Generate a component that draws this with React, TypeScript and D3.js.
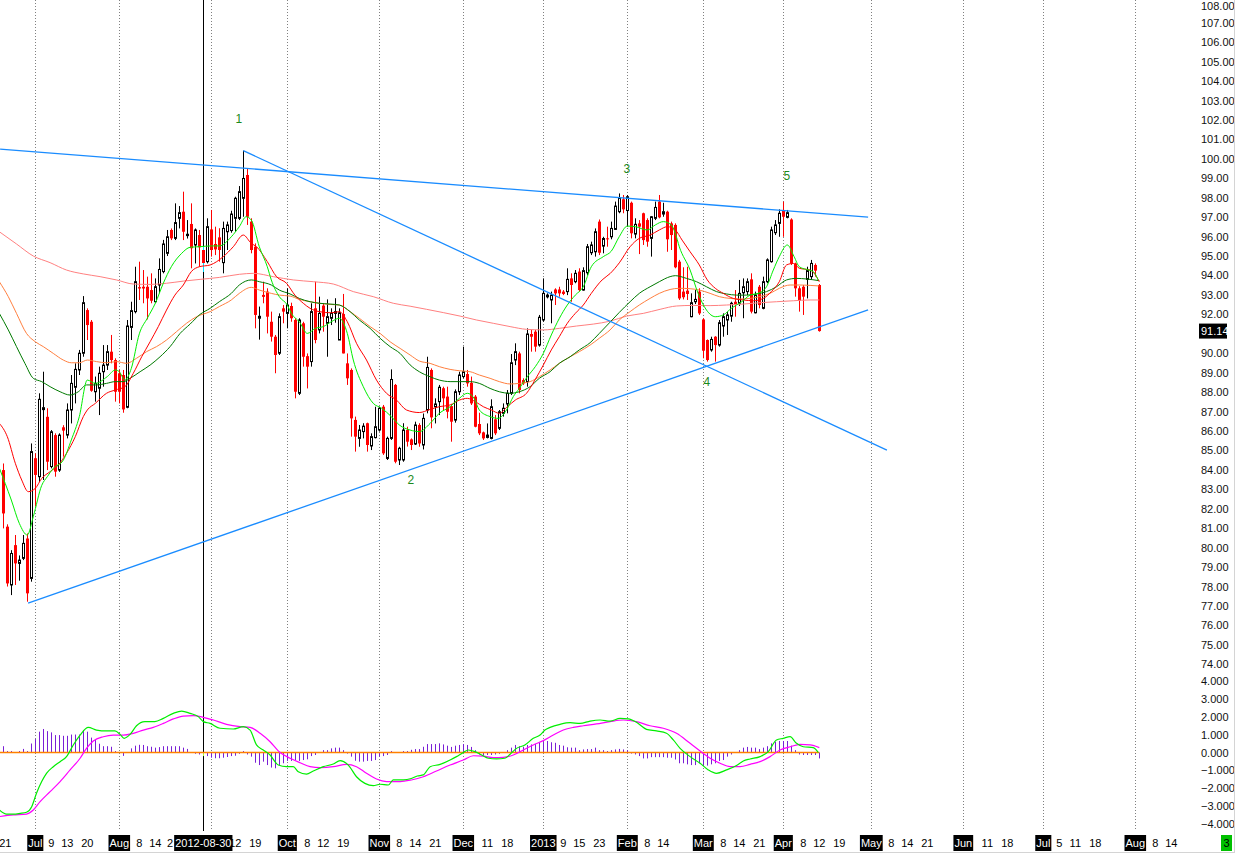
import React, { useEffect, useRef } from 'react';
import * as d3 from 'd3';

const W = 1235;
const H = 853;
const FONT = '"Liberation Sans Narrow", "Arial Narrow", "Liberation Sans", Arial, sans-serif';

// daily bars, 2012-06-20 .. 2013-04-12 (index 0 = first bar)
const opens = [
  83.99, 81.08, 78.08, 80.13, 79.19, 79.45, 80.47, 78.42, 84.6, 83.65, 87.1, 86.73, 84.17, 85.79, 83.99, 86.19, 85.79, 87.08, 88.25, 89.14,
  90.0, 92.22, 91.62, 88.02, 88.2, 89.05, 89.39, 90.08, 89.65, 88.97, 88.88, 87.22, 91.33, 92.14, 93.4, 93.42, 93.42, 93.25, 92.65, 93.51,
  94.2, 95.14, 96.34, 95.91, 96.94, 97.28, 96.05, 96.65, 95.57, 96.08, 95.31, 94.71, 96.37, 95.62, 95.96, 94.66, 96.25, 96.31, 96.94, 96.94,
  97.97, 99.17, 96.77, 95.48, 91.8, 93.0, 93.17, 91.62, 90.85, 90.0, 92.31, 92.05, 92.43, 91.71, 87.94, 91.54, 89.85, 89.57, 92.31, 91.2,
  92.45, 91.54, 91.8, 92.05, 90.68, 92.02, 89.48, 89.14, 86.57, 85.62, 85.97, 86.4, 85.23, 85.66, 86.05, 87.25, 84.59, 85.62, 88.37, 84.51,
  84.51, 86.05, 85.57, 85.33, 86.31, 85.28, 87.08, 89.14, 87.25, 87.51, 88.2, 87.77, 87.28, 86.56, 88.02, 88.8, 88.93, 88.48, 87.77, 86.36,
  85.93, 85.67, 85.62, 86.6, 86.14, 86.91, 87.39, 87.94, 89.65, 89.99, 88.62, 88.54, 90.99, 91.11, 90.42, 91.71, 92.9, 92.74, 93.28, 93.28,
  93.17, 93.17, 93.85, 93.68, 94.2, 93.25, 94.14, 95.17, 95.22, 96.77, 95.51, 95.91, 95.99, 96.37, 97.28, 97.92, 97.34, 97.74, 96.13, 96.68,
  97.2, 96.85, 95.91, 96.94, 97.8, 97.16, 97.28, 96.68, 96.6, 94.71, 93.17, 93.22, 91.88, 92.65, 93.17, 91.74, 90.68, 90.17, 90.85, 90.42,
  91.4, 91.71, 91.91, 92.65, 92.57, 93.11, 93.17, 93.8, 92.08, 93.42, 92.31, 93.68, 94.71, 96.2, 96.68, 97.37, 96.99, 96.88, 94.62, 93.34,
  93.42, 93.8, 93.94, 94.54, 93.51,
];
const highs = [
  84.33, 81.2, 79.87, 80.65, 79.6, 80.65, 80.73, 85.36, 84.85, 87.94, 89.05, 87.17, 86.05, 85.88, 85.88, 86.3, 87.42, 88.88, 89.48, 90.17,
  92.94, 92.31, 91.71, 88.8, 89.31, 90.42, 90.42, 90.94, 89.74, 89.14, 89.14, 91.71, 92.65, 94.45, 94.71, 94.28, 93.94, 94.11, 93.85, 94.88,
  95.83, 96.34, 96.42, 97.71, 97.57, 98.31, 96.85, 97.71, 96.42, 96.34, 95.47, 96.94, 97.37, 96.51, 96.43, 96.77, 96.77, 97.33, 98.05, 98.6,
  100.42, 99.51, 96.94, 95.65, 92.4, 93.68, 93.34, 92.14, 90.94, 92.05, 92.48, 93.34, 92.6, 91.8, 91.8, 91.62, 89.99, 92.57, 93.68, 92.91,
  92.57, 92.77, 92.31, 92.83, 92.31, 93.05, 89.99, 89.22, 86.74, 86.31, 86.4, 86.43, 85.88, 87.25, 87.25, 87.34, 85.71, 89.17, 88.42, 85.19,
  86.4, 86.22, 85.62, 86.48, 86.4, 86.9, 89.82, 89.22, 87.68, 88.37, 88.28, 88.28, 87.39, 88.14, 89.05, 90.34, 89.14, 88.8, 87.85, 86.94,
  85.97, 86.39, 87.63, 86.82, 87.08, 87.42, 88.11, 89.96, 90.51, 90.08, 88.71, 91.28, 91.2, 91.2, 91.97, 93.85, 93.08, 93.17, 93.34, 93.42,
  93.25, 94.37, 94.11, 94.28, 94.37, 94.42, 95.62, 95.74, 96.42, 96.88, 95.99, 96.51, 96.77, 97.8, 98.22, 98.14, 98.14, 97.8, 96.94, 96.85,
  97.23, 96.94, 97.06, 97.8, 98.14, 97.74, 97.33, 96.77, 96.68, 94.8, 94.42, 94.45, 93.08, 93.25, 93.34, 91.8, 90.71, 90.85, 90.88, 91.71,
  92.05, 92.14, 92.65, 93.25, 93.77, 93.85, 93.85, 94.11, 93.17, 93.51, 93.94, 94.88, 96.51, 96.85, 97.4, 97.8, 97.37, 96.94, 94.66, 93.45,
  93.51, 94.45, 94.8, 94.62, 93.56,
];
const lows = [
  80.99, 78.0, 77.56, 78.08, 78.3, 79.36, 77.22, 78.25, 82.11, 83.39, 83.48, 83.99, 84.08, 83.65, 83.9, 84.68, 85.62, 86.39, 87.42, 88.88,
  89.82, 90.68, 88.02, 87.51, 86.82, 88.28, 89.14, 89.48, 87.51, 87.42, 86.94, 87.17, 90.68, 92.05, 92.74, 92.57, 91.74, 92.57, 92.57, 93.08,
  94.11, 95.0, 95.82, 95.82, 96.42, 95.82, 95.9, 94.37, 94.62, 94.45, 94.18, 94.62, 94.97, 95.05, 94.71, 94.11, 95.31, 96.2, 96.25, 96.85,
  97.02, 96.6, 95.14, 91.28, 90.7, 92.57, 91.02, 90.6, 88.97, 89.91, 91.54, 91.28, 91.62, 87.68, 87.85, 89.31, 88.19, 89.31, 90.51, 91.02,
  91.11, 89.82, 91.45, 91.57, 90.68, 89.99, 88.37, 85.71, 84.94, 85.19, 85.62, 84.94, 85.02, 85.62, 85.97, 84.77, 84.51, 85.54, 84.34, 84.25,
  84.42, 85.2, 85.02, 85.28, 85.19, 85.05, 86.91, 86.14, 86.39, 86.82, 87.08, 86.65, 85.45, 86.43, 87.85, 88.71, 88.28, 87.34, 86.19, 85.79,
  85.54, 85.62, 85.57, 85.79, 86.05, 86.74, 86.91, 87.85, 89.39, 87.94, 88.37, 88.28, 90.08, 90.08, 90.34, 91.62, 92.82, 91.54, 92.48, 92.91,
  92.99, 92.99, 92.65, 93.6, 93.17, 93.22, 94.02, 95.05, 94.97, 95.05, 95.14, 95.48, 95.86, 96.34, 97.2, 97.2, 96.51, 95.91, 95.91, 95.1,
  95.57, 95.48, 94.97, 96.85, 96.94, 97.02, 95.22, 95.31, 94.37, 92.74, 92.77, 92.74, 91.85, 92.53, 91.97, 89.74, 89.57, 90.08, 89.57, 90.34,
  90.85, 90.94, 91.62, 91.88, 92.43, 91.8, 92.99, 92.05, 92.05, 92.31, 92.26, 93.6, 94.66, 96.08, 95.99, 95.99, 96.94, 94.54, 92.91, 92.14,
  91.97, 92.82, 93.77, 93.94, 91.11,
];
const closes = [
  81.76, 78.16, 79.7, 79.19, 79.36, 80.22, 77.65, 84.94, 83.74, 87.63, 87.2, 84.42, 85.96, 83.91, 85.79, 86.02, 87.08, 88.45, 89.17, 90.0,
  92.6, 91.45, 88.07, 88.45, 88.97, 89.39, 90.08, 89.65, 88.02, 88.02, 87.11, 91.4, 92.19, 93.68, 93.33, 93.33, 92.82, 92.7, 93.42, 94.31,
  95.62, 95.99, 95.91, 96.72, 97.23, 96.25, 96.12, 95.4, 96.34, 95.45, 94.64, 96.51, 95.31, 95.34, 95.31, 96.42, 96.6, 97.16, 97.97, 98.31,
  98.99, 97.02, 95.31, 91.97, 91.9, 92.9, 91.88, 90.85, 89.91, 91.88, 92.14, 92.48, 91.8, 88.02, 91.71, 89.82, 89.31, 92.14, 90.68, 92.05,
  91.88, 91.88, 92.05, 92.14, 92.08, 89.99, 88.71, 86.65, 85.71, 86.05, 86.25, 85.28, 85.71, 86.22, 87.17, 84.85, 85.62, 88.65, 84.42, 85.11,
  86.05, 85.45, 85.28, 86.31, 85.36, 86.65, 89.27, 86.7, 87.39, 88.25, 87.68, 86.99, 86.48, 88.02, 88.88, 89.05, 88.45, 87.42, 86.22, 85.88,
  85.62, 85.79, 87.25, 85.88, 86.99, 87.17, 87.94, 89.51, 90.08, 88.11, 88.45, 90.99, 90.85, 90.34, 91.85, 93.08, 92.99, 92.99, 93.08, 93.08,
  93.05, 93.8, 93.51, 94.11, 93.25, 94.25, 95.48, 95.57, 96.25, 95.17, 95.9, 95.86, 96.42, 97.57, 97.97, 97.4, 98.05, 96.17, 96.63, 96.51,
  95.82, 95.74, 97.02, 97.5, 96.99, 97.28, 95.86, 96.08, 94.42, 92.82, 92.88, 93.05, 92.6, 92.77, 92.05, 90.13, 89.65, 90.71, 90.42, 91.57,
  91.88, 91.97, 92.57, 92.53, 93.08, 93.42, 93.68, 92.14, 92.99, 92.48, 93.68, 94.8, 96.34, 96.6, 97.2, 97.02, 97.23, 94.62, 93.34, 92.7,
  92.91, 94.25, 94.62, 94.25, 91.14,
];

// MACD histogram, one value per bar
const histogram = [
  0.35, 0.08, 0.08, 0, 0.08, 0.2, 0.08, 0.5, 0.75, 1.16, 1.31, 1.19, 1.12, 0.97, 0.97, 0.93, 0.93, 1.0, 1.0, 1.0,
  1.25, 1.16, 0.83, 0.7, 0.49, 0.35, 0.35, 0.32, 0.08, 0, -0.19, 0, 0.23, 0.38, 0.43, 0.42, 0.35, 0.32, 0.27, 0.3,
  0.35, 0.35, 0.35, 0.35, 0.35, 0.27, 0.2, 0, -0.07, -0.11, -0.2, -0.2, -0.29, -0.32, -0.32, -0.29, -0.25, -0.2, -0.18, -0.07,
  0.08, -0.11, -0.23, -0.57, -0.7, -0.51, -0.7, -0.84, -0.88, -0.7, -0.6, -0.47, -0.47, -0.42, -0.47, -0.42, -0.38, -0.2, -0.14, 0,
  0.13, 0.13, 0.23, 0.27, 0.27, 0.13, -0.06, -0.23, -0.46, -0.51, -0.51, -0.47, -0.47, -0.42, -0.23, -0.2, -0.14, 0.08, 0, 0,
  0.08, 0.08, 0.15, 0.19, 0.19, 0.32, 0.47, 0.47, 0.47, 0.51, 0.45, 0.38, 0.31, 0.38, 0.42, 0.47, 0.42, 0.31, 0.13, -0.11,
  -0.18, -0.14, -0.14, -0.11, -0.07, 0, 0.13, 0.27, 0.42, 0.35, 0.32, 0.42, 0.45, 0.47, 0.54, 0.6, 0.64, 0.57, 0.54, 0.42,
  0.38, 0.29, 0.27, 0.27, 0.13, 0.17, 0.19, 0.19, 0.27, 0.13, 0.13, 0.08, 0.13, 0.17, 0.2, 0.17, 0.13, -0.06, -0.11, -0.2,
  -0.33, -0.33, -0.26, -0.26, -0.26, -0.26, -0.29, -0.29, -0.39, -0.6, -0.6, -0.66, -0.7, -0.7, -0.6, -0.75, -0.73, -0.66, -0.6, -0.47,
  -0.42, -0.23, -0.11, 0, 0.13, 0.27, 0.31, 0.27, 0.27, 0.19, 0.27, 0.35, 0.51, 0.6, 0.64, 0.64, 0.64, 0.38, 0.13, -0.11,
  -0.14, -0.14, -0.14, -0.14, -0.33,
];

// moving averages as [bar, value]
const fastMA: [number, number][] = [
  [-1, 84.1], [2, 82.45], [4, 81.25], [6, 80.65], [7.5, 81.6], [9.6, 83.2], [11, 83.65], [12.5, 84.08], [15, 84.5], [17, 85.54],
  [19, 86.74], [21, 88.62], [23, 88.45], [26, 88.8], [28, 89.14], [29, 89.05], [30.4, 88.62], [32, 89.22], [34, 91.0], [36, 91.8],
  [38, 92.57], [40, 93.6], [42, 94.45], [44.6, 95.14], [46.7, 95.45], [49, 95.48], [52, 95.52], [54, 95.52], [57, 95.99], [59, 96.51],
  [60.7, 97.02], [62, 96.85], [64, 95.48], [66, 94.45], [67, 93.77], [69, 92.91], [71, 92.48], [72, 92.05], [74, 91.62], [76, 91.02],
  [78, 91.28], [80, 91.37], [82, 91.62], [84, 91.8], [86, 91.02], [87.5, 89.65], [90, 88.28], [92.5, 87.42], [94.6, 87.17], [97, 86.74],
  [99, 86.31], [101.7, 86.05], [104, 85.97], [106.7, 86.39], [109, 86.91], [111.7, 87.25], [114, 87.68], [116, 87.94], [117.7, 87.68], [119, 87.08],
  [121.7, 86.74], [123.7, 86.65], [125.8, 87.08], [127.5, 87.77], [129, 88.19], [131, 88.79], [133, 89.31], [135, 89.99], [137, 90.94], [139, 91.79],
  [141, 92.48], [143, 92.99], [145, 93.42], [147, 94.45], [150, 94.97], [152, 95.25], [154, 96.0], [156, 96.54], [158, 96.51], [161, 96.34],
  [163, 96.6], [165, 96.77], [167, 96.6], [168, 96.17], [169, 95.48], [171.7, 94.28], [173.7, 93.08], [175.8, 92.22], [178, 91.88], [180, 91.97],
  [182, 92.31], [184.6, 92.65], [186.7, 92.99], [188.7, 93.08], [190.8, 93.42], [192.5, 94.28], [194, 94.97], [196, 95.57], [197.7, 94.97], [199, 94.45],
  [200.8, 94.31], [202.5, 94.2], [203.7, 93.77],
];
const midMA: [number, number][] = [
  [-1, 86.4], [1, 85.71], [3, 84.34], [4.6, 83.48], [6.25, 82.88], [8, 83.05], [9.6, 83.56], [11.7, 83.91], [13.75, 84.25], [15.8, 84.85],
  [18, 85.71], [20, 86.74], [21, 87.08], [23, 87.42], [25.8, 87.94], [28, 88.11], [30.4, 88.28], [32.5, 88.97], [34.6, 89.82], [36.7, 90.59],
  [38.75, 91.37], [40.8, 92.22], [42.9, 92.99], [45, 93.51], [47, 94.2], [49, 94.45], [51.7, 94.54], [55, 94.97], [57.5, 95.48], [60, 96.08],
  [62, 95.65], [63.3, 95.48], [66, 94.71], [68.3, 93.94], [70.8, 93.6], [72.9, 92.99], [75, 92.57], [76.7, 92.31], [79, 92.14], [82, 92.08],
  [84, 92.14], [86, 91.62], [88.3, 90.51], [90.8, 89.65], [93.3, 88.62], [95.8, 87.94], [98.3, 87.59], [100.8, 87.08], [104, 86.95], [106.7, 87.11],
  [109, 87.25], [111.7, 87.34], [114, 87.59], [116, 87.68], [118, 87.51], [120, 87.25], [122, 87.08], [124, 86.91], [126, 87.25], [128, 87.59],
  [130.8, 87.94], [132.9, 88.62], [135, 89.39], [137, 90.17], [139, 90.85], [141, 91.54], [143, 92.05], [145, 92.48], [147, 93.08], [149.7, 93.77],
  [151.7, 94.1], [154, 94.65], [156.7, 95.48], [159, 95.91], [161.7, 96.08], [164, 96.34], [166, 96.51], [168, 96.34], [169.7, 95.82], [171.7, 95.22],
  [174, 94.54], [176, 93.77], [178, 93.34], [180, 93.08], [182.5, 92.82], [185, 92.74], [187.5, 92.7], [190, 92.82], [192, 93.17], [194, 93.68],
  [195.8, 94.54], [197.5, 94.62], [199, 94.37], [201.7, 94.28], [203.3, 93.94], [204, 93.68],
];
const slowMA: [number, number][] = [
  [-1, 92.05], [1.25, 91.2], [3.3, 90.34], [5.4, 89.48], [7.5, 88.71], [9.6, 88.54], [11.7, 88.28], [14.2, 88.02], [16.7, 87.85], [18.75, 88.02],
  [20.8, 88.37], [23.3, 88.37], [25.8, 88.45], [28, 88.54], [30, 88.54], [31.7, 88.71], [34.2, 89.05], [36.7, 89.39], [39.2, 89.82], [41.7, 90.34],
  [44.2, 91.02], [46.7, 91.5], [49.2, 92.0], [51.7, 92.31], [54, 92.65], [57, 93.08], [59, 93.51], [62, 93.77], [64, 93.68], [67, 93.51],
  [69, 93.25], [71.7, 93.05], [74, 92.82], [76.7, 92.65], [79, 92.57], [81.7, 92.53], [84, 92.48], [86.7, 92.14], [89, 91.71], [91.7, 91.28],
  [94.2, 90.77], [96.7, 90.34], [99.2, 89.99], [101.7, 89.4], [104, 89.05], [106.7, 88.79], [109, 88.62], [111.7, 88.54], [114, 88.54], [116.7, 88.54],
  [119, 88.45], [121.7, 88.19], [124, 88.02], [126.7, 87.94], [129, 88.02], [131.7, 88.28], [134, 88.71], [136.7, 89.05], [139, 89.48], [141.7, 89.82],
  [144, 90.17], [146.7, 90.54], [149, 91.02], [151.7, 91.6], [154, 92.1], [156.7, 92.65], [159, 93.08], [161.7, 93.42], [164, 93.68], [166.7, 93.94],
  [168, 93.99], [170.8, 93.85], [173.3, 93.68], [175.8, 93.42], [178.3, 93.17], [180.8, 93.05], [183.3, 92.99], [185.8, 92.99], [188.3, 93.05], [190.8, 93.17],
  [193.3, 93.42], [195.8, 93.77], [198.3, 93.85], [200.8, 93.82], [204, 93.73],
];
const emaMA: [number, number][] = [
  [-1, 93.68], [1.25, 92.91], [3.3, 92.05], [5.8, 91.02], [8, 90.59], [10, 90.34], [12.5, 89.99], [15, 89.65], [17, 89.51], [19, 89.51],
  [21, 89.65], [23.3, 89.57], [25.8, 89.51], [28.3, 89.57], [30.8, 89.48], [33.3, 89.74], [35.8, 90.08], [38.3, 90.34], [40.8, 90.68], [43.3, 91.11],
  [45.8, 91.54], [48.3, 91.88], [51.7, 92.14], [54, 92.4], [57, 92.74], [59, 93.08], [62, 93.39], [64, 93.25], [67, 93.08], [69, 92.99],
  [71.7, 92.94], [74, 92.77], [76.7, 92.65], [79, 92.57], [81.7, 92.51], [84, 92.48], [86.7, 92.14], [89, 91.8], [91.7, 91.37], [94.2, 91.02],
  [96.7, 90.59], [99.2, 90.25], [101.7, 89.91], [104, 89.6], [106.7, 89.48], [109, 89.31], [111.7, 89.17], [114, 89.1], [116.7, 89.05], [119, 88.88],
  [121.7, 88.71], [124, 88.54], [126.7, 88.42], [129, 88.45], [131.7, 88.54], [134, 88.79], [136.7, 89.14], [139, 89.48], [141.7, 89.82], [144, 90.08],
  [146.7, 90.42], [149, 90.77], [151.7, 91.2], [154, 91.71], [156.7, 92.14], [159, 92.48], [161.7, 92.82], [164, 93.08], [166.7, 93.28], [169, 93.34],
  [171.7, 93.32], [174, 93.25], [176.7, 93.08], [179, 92.91], [181.7, 92.82], [184, 92.79], [186.7, 92.82], [189, 92.91], [191.7, 93.08], [194, 93.34],
  [196.7, 93.51], [199, 93.51], [201.7, 93.49], [204, 93.46],
];
const longMA: [number, number][] = [
  [-1, 96.25], [3.3, 95.62], [7.5, 95.0], [11.7, 94.66], [15.8, 94.28], [20, 94.08], [24.2, 93.94], [28.3, 93.77], [32.5, 93.56], [36.7, 93.54],
  [40.8, 93.6], [45, 93.71], [49.2, 93.8], [54, 93.9], [59, 94.06], [62.5, 94.11], [67.5, 93.94], [72.5, 93.77], [77.5, 93.68], [82.5, 93.56],
  [87.5, 93.17], [92.5, 92.91], [97.5, 92.57], [101.7, 92.42], [105.8, 92.26], [110, 92.09], [114.2, 91.91], [118.3, 91.71], [122.5, 91.54], [126.7, 91.37],
  [130.8, 91.23], [135, 91.2], [139, 91.28], [143.3, 91.4], [147.5, 91.5], [151.7, 91.65], [155.8, 91.91], [160, 92.05], [164.2, 92.26], [168.3, 92.43],
  [172.5, 92.46], [176.7, 92.45], [180.8, 92.48], [185, 92.53], [189.2, 92.6], [193.3, 92.65], [197.5, 92.7], [201.7, 92.74], [204, 92.74],
];

const macdLine: [number, number][] = [
  [-1, -3.2], [0.8, -3.43], [2.5, -3.43], [4.2, -3.39], [5.8, -3.33], [7.1, -3.02], [8.3, -2.27], [9.6, -1.62], [10.8, -1.16], [12.5, -0.79],
  [14.2, -0.51], [15.8, -0.23], [17.5, 0.42], [19.2, 0.97], [21.25, 1.4], [23.3, 1.25], [25.8, 1.2], [27.9, 1.2], [29.2, 1.01], [30.2, 0.79],
  [31.7, 1.01], [33.3, 1.49], [35.4, 1.72], [37.9, 1.72], [40, 1.9], [42.5, 2.18], [44.6, 2.31], [46.7, 2.18], [48.75, 2.0], [50, 1.72],
  [51.7, 1.62], [54.2, 1.35], [57.5, 1.31], [60, 1.44], [61.7, 1.25], [63.3, 0.42], [65, 0.14], [66.7, -0.14], [68.75, -0.7], [70.8, -0.79],
  [72.5, -0.79], [73.75, -1.07], [75.8, -1.2], [77.5, -1.03], [80, -0.79], [82.5, -0.64], [84.2, -0.45], [86.25, -0.7], [88.3, -1.35], [90.4, -1.72],
  [92.5, -1.85], [94.2, -1.77], [96.25, -1.81], [97.5, -1.53], [100, -1.53], [102, -1.45], [103.5, -1.31], [105, -1.25], [106.7, -0.79], [109.2, -0.66],
  [111.7, -0.42], [113.3, -0.23], [115, 0], [116.25, 0.14], [117.9, 0.05], [119.6, -0.14], [121.25, -0.32], [123.3, -0.36], [125.4, -0.32], [126.7, -0.1],
  [128.3, 0.23], [130.4, 0.42], [132.5, 0.79], [134.2, 0.97], [135.4, 1.25], [136.7, 1.4], [139.2, 1.57], [141.7, 1.66], [144.2, 1.62], [146.7, 1.75],
  [149.2, 1.81], [151.7, 1.75], [154.2, 1.9], [156.25, 1.87], [158.3, 1.68], [160.8, 1.29], [163.3, 1.2], [165.8, 1.07], [167.5, 0.7], [169.2, 0.23],
  [171.7, -0.23], [174.2, -0.6], [176.25, -0.97], [178.3, -1.16], [180.8, -0.97], [183.3, -0.73], [185, -0.47], [186.7, -0.36], [189.2, -0.23], [191.25, 0.05],
  [193.3, 0.7], [195, 0.79], [196.7, 0.88], [198.3, 0.51], [200, 0.32], [202.5, 0.27], [203.75, 0],
];
const signalLine: [number, number][] = [
  [-1, -3.57], [2.5, -3.48], [5.8, -3.43], [7.5, -3.2], [9.2, -2.74], [11.7, -2.18], [14.2, -1.62], [16.7, -0.97], [19.2, -0.32], [20.8, 0.23],
  [22.5, 0.64], [25, 0.88], [27.5, 0.97], [30, 0.97], [32.5, 1.07], [35, 1.25], [37.5, 1.4], [40, 1.62], [42.5, 1.87], [45, 2.03],
  [47.5, 2.05], [50, 1.96], [52.5, 1.81], [55.8, 1.57], [59.2, 1.44], [61.7, 1.4], [64.2, 1.07], [66.7, 0.6], [69.2, 0], [71.7, -0.32],
  [74.2, -0.57], [76.7, -0.79], [79.2, -0.84], [82.5, -0.79], [85.8, -0.66], [88.3, -0.79], [90.8, -1.16], [93.3, -1.48], [95.8, -1.62], [99.2, -1.62],
  [102, -1.53], [105, -1.35], [108.3, -1.03], [111.7, -0.7], [115, -0.42], [117.5, -0.18], [120, -0.2], [122.5, -0.29], [125, -0.27], [127.5, -0.14],
  [130, 0.14], [132.5, 0.42], [135, 0.66], [137.5, 0.97], [140, 1.25], [142.5, 1.4], [145, 1.49], [148.3, 1.59], [151.7, 1.72], [155, 1.81],
  [158.3, 1.72], [161.7, 1.49], [165, 1.35], [168.3, 1.07], [171.7, 0.51], [174.2, 0.08], [176.7, -0.32], [179.2, -0.6], [181.7, -0.79], [184.2, -0.79],
  [186.7, -0.66], [189.2, -0.51], [191.7, -0.23], [194.2, 0.14], [196.7, 0.32], [199.2, 0.45], [201.7, 0.42], [204, 0.27],
];

// drawn trend lines, [bar, price] end points
const trendLines: [number, number, number, number][] = [
  [-0.8, 100.5, 216.2, 97.0],
  [60, 100.42, 220.9, 85.02],
  [6.2, 77.15, 216.2, 92.23],
];

const waveLabels: [string, number, number][] = [
  ['1', 58.9, 102.05],
  ['2', 101.9, 83.48],
  ['3', 155.9, 99.48],
  ['4', 175.9, 88.52],
  ['5', 195.9, 99.12],
];

// month starts: grid lines; the Sep label sits under the cursor date box, so it has no text
const monthTicks: [number, string][] = [
  [8, 'Jul'], [29, 'Aug'], [52, ''], [71, 'Oct'], [94, 'Nov'], [115, 'Dec'], [135, '2013'],
  [156, 'Feb'], [175, 'Mar'], [195, 'Apr'], [217, 'May'], [240, 'Jun'], [260, 'Jul'], [283, 'Aug'],
];
const dayTicks: [number, string][] = [
  [0.5, '21'], [12, '9'], [16, '13'], [21, '20'], [34, '8'], [38, '14'], [41.7, '2'], [58, '12'], [63, '19'],
  [76, '8'], [80, '12'], [85, '19'], [99, '8'], [103, '14'], [108, '21'], [121, '11'], [126, '18'],
  [140, '9'], [144, '15'], [149, '23'], [161, '8'], [165, '14'], [180, '8'], [184, '14'], [189, '21'],
  [200, '8'], [204, '12'], [209, '19'], [222, '8'], [226, '14'], [231, '21'], [246, '11'], [251, '18'],
  [264, '5'], [268, '11'], [273, '18'], [288, '8'], [292, '14'],
];
const cursorBar = 50;
const cursorDate = '2012-08-30';
const lastPrice = 91.14;

export default function App() {
  const ref = useRef<SVGSVGElement>(null);

  useEffect(() => {
    if (!ref.current) return;
    const svg = d3.select(ref.current);
    svg.selectAll('*').remove();

    const x = d3.scaleLinear().domain([0, 300]).range([3.3, 1203.3]);
    const y = d3.scaleLinear().domain([74, 108]).range([664.3, 3.3]);
    const ym = d3.scaleLinear().domain([-4, 4]).range([824.3, 680.7]);
    const px = (i: number) => Math.round(x(i));

    svg.append('rect').attr('width', W).attr('height', H).attr('fill', '#fff');

    // month grid
    svg.append('g')
      .selectAll('line')
      .data(monthTicks)
      .enter()
      .append('line')
      .attr('x1', d => px(d[0]) + 0.5)
      .attr('x2', d => px(d[0]) + 0.5)
      .attr('y1', 0)
      .attr('y2', 831)
      .attr('stroke', '#808080')
      .attr('stroke-dasharray', '1,2');

    // cursor line
    svg.append('line')
      .attr('x1', px(cursorBar) + 0.5)
      .attr('x2', px(cursorBar) + 0.5)
      .attr('y1', 0)
      .attr('y2', 831)
      .attr('stroke', '#000');

    // candles
    const bars = d3.range(closes.length);
    const cg = svg.append('g');
    cg.selectAll('line.wick')
      .data(bars)
      .enter()
      .append('line')
      .attr('class', 'wick')
      .attr('x1', i => px(i) + 0.5)
      .attr('x2', i => px(i) + 0.5)
      .attr('y1', i => y(highs[i]))
      .attr('y2', i => y(lows[i]))
      .attr('stroke', i => (i === cursorBar ? '#00e0ff' : closes[i] >= opens[i] ? '#000' : '#ff0000'));
    cg.selectAll('rect.body')
      .data(bars)
      .enter()
      .append('rect')
      .attr('class', 'body')
      .attr('x', i => (closes[i] >= opens[i] ? px(i) - 0.5 : px(i) - 1))
      .attr('width', i => (closes[i] >= opens[i] ? 2 : 3))
      .attr('y', i => y(Math.max(opens[i], closes[i])))
      .attr('height', i => Math.max(1, Math.abs(y(opens[i]) - y(closes[i]))))
      .attr('fill', i => (closes[i] >= opens[i] ? '#fff' : '#ff0000'))
      .attr('stroke', i => (closes[i] >= opens[i] ? '#000' : 'none'));

    // moving averages
    const maLine = d3.line<[number, number]>()
      .x(d => x(d[0]))
      .y(d => y(d[1]))
      .curve(d3.curveMonotoneX);
    const mas: [[number, number][], string][] = [
      [longMA, '#ff8080'],
      [emaMA, '#ff7f3f'],
      [slowMA, '#007a00'],
      [midMA, '#ff0000'],
      [fastMA, '#00ee00'],
    ];
    mas.forEach(([data, color]) => {
      svg.append('path')
        .datum(data)
        .attr('fill', 'none')
        .attr('stroke', color)
        .attr('stroke-width', 1)
        .attr('d', maLine);
    });

    // trend lines
    svg.append('g')
      .selectAll('line')
      .data(trendLines)
      .enter()
      .append('line')
      .attr('x1', d => Math.max(0, x(d[0])))
      .attr('y1', d => y(d[1]))
      .attr('x2', d => x(d[2]))
      .attr('y2', d => y(d[3]))
      .attr('stroke', '#1a8cff')
      .attr('stroke-width', 1.3);

    svg.append('g')
      .selectAll('text')
      .data(waveLabels)
      .enter()
      .append('text')
      .attr('x', d => x(d[1]))
      .attr('y', d => y(d[2]))
      .attr('text-anchor', 'middle')
      .attr('dominant-baseline', 'central')
      .attr('font-family', '"Liberation Sans", Arial, sans-serif')
      .attr('font-size', 12)
      .attr('fill', '#1b8a1b')
      .text(d => d[0]);

    // MACD panel
    const mg = svg.append('g');
    mg.selectAll('line.hist')
      .data(bars)
      .enter()
      .append('line')
      .attr('class', 'hist')
      .attr('x1', i => px(i) + 0.5)
      .attr('x2', i => px(i) + 0.5)
      .attr('y1', ym(0))
      .attr('y2', i => ym(histogram[i]))
      .attr('stroke', i => (i === cursorBar ? '#b0ff30' : '#7a1fd6'))
      .attr('stroke-width', 1);
    mg.append('line')
      .attr('x1', x(-1))
      .attr('x2', x(closes.length - 1))
      .attr('y1', ym(0))
      .attr('y2', ym(0))
      .attr('stroke', '#ff8000')
      .attr('stroke-width', 1.6);
    const mLine = d3.line<[number, number]>()
      .x(d => x(d[0]))
      .y(d => ym(d[1]))
      .curve(d3.curveMonotoneX);
    mg.append('path').datum(signalLine).attr('fill', 'none').attr('stroke', '#ff00ff').attr('stroke-width', 1.2).attr('d', mLine);
    mg.append('path').datum(macdLine).attr('fill', 'none').attr('stroke', '#00ee00').attr('stroke-width', 1.2).attr('d', mLine);

    // right axes (the tick under the last-price box is covered, so it is skipped)
    const ax = svg.append('g').attr('font-family', FONT).attr('font-size', 11).attr('fill', '#111');
    ax.selectAll('text.p')
      .data(d3.range(74, 109).filter(v => Math.abs(v - lastPrice) > 0.6))
      .enter()
      .append('text')
      .attr('class', 'p')
      .attr('x', 1201)
      .attr('y', d => Math.max(y(d), 6))
      .attr('dominant-baseline', 'central')
      .text(d => d3.format('.2f')(d));
    ax.selectAll('text.m')
      .data(d3.range(-4, 5))
      .enter()
      .append('text')
      .attr('class', 'm')
      .attr('x', 1201)
      .attr('y', d => ym(d))
      .attr('dominant-baseline', 'central')
      .text(d => d3.format('.3f')(d));

    const lp = ax.append('g');
    lp.append('rect').attr('x', 1199).attr('y', y(lastPrice) - 7.5).attr('width', 28).attr('height', 15).attr('fill', '#000');
    lp.append('text')
      .attr('x', 1201)
      .attr('y', y(lastPrice))
      .attr('dominant-baseline', 'central')
      .attr('fill', '#fff')
      .text(d3.format('.2f')(lastPrice));

    // bottom axis
    const xb = svg.append('g').attr('font-family', FONT).attr('font-size', 11);
    const labelY = 843;
    xb.selectAll('text.day')
      .data(dayTicks)
      .enter()
      .append('text')
      .attr('class', 'day')
      .attr('x', d => x(d[0]))
      .attr('y', labelY)
      .attr('text-anchor', 'middle')
      .attr('dominant-baseline', 'central')
      .attr('fill', '#000')
      .text(d => d[1]);

    const boxed = (g: d3.Selection<SVGGElement, unknown, null, undefined>, cx: number, label: string) => {
      const rect = g.append('rect').attr('fill', '#000');
      const t = g.append('text')
        .attr('x', cx)
        .attr('y', labelY)
        .attr('text-anchor', 'middle')
        .attr('dominant-baseline', 'central')
        .attr('fill', '#fff')
        .text(label);
      const w = (t.node() as SVGTextElement).getComputedTextLength();
      rect.attr('x', cx - w / 2 - 1).attr('y', labelY - 8).attr('width', w + 2).attr('height', 16);
    };
    monthTicks.filter(d => d[1]).forEach(d => boxed(xb.append('g'), x(d[0]), d[1]));
    boxed(xb.append('g'), x(cursorBar), cursorDate);

    const corner = svg.append('g');
    corner.append('rect').attr('x', 1221).attr('y', 835).attr('width', 11).attr('height', 16).attr('fill', '#00c000');
    corner.append('text')
      .attr('x', 1226.5)
      .attr('y', labelY)
      .attr('text-anchor', 'middle')
      .attr('dominant-baseline', 'central')
      .attr('font-family', FONT)
      .attr('font-size', 11)
      .attr('fill', '#000')
      .text('3');

    svg.append('line').attr('x1', 1234.5).attr('x2', 1234.5).attr('y1', 0).attr('y2', H).attr('stroke', '#d4d4d4');
    svg.append('line').attr('x1', 0).attr('x2', W).attr('y1', 852.5).attr('y2', 852.5).attr('stroke', '#d4d4d4');
  }, []);

  return (
    <div style={{ position: 'absolute', left: 0, top: 0 }}>
      <svg ref={ref} width={W} height={H} style={{ display: 'block' }} />
    </div>
  );
}
